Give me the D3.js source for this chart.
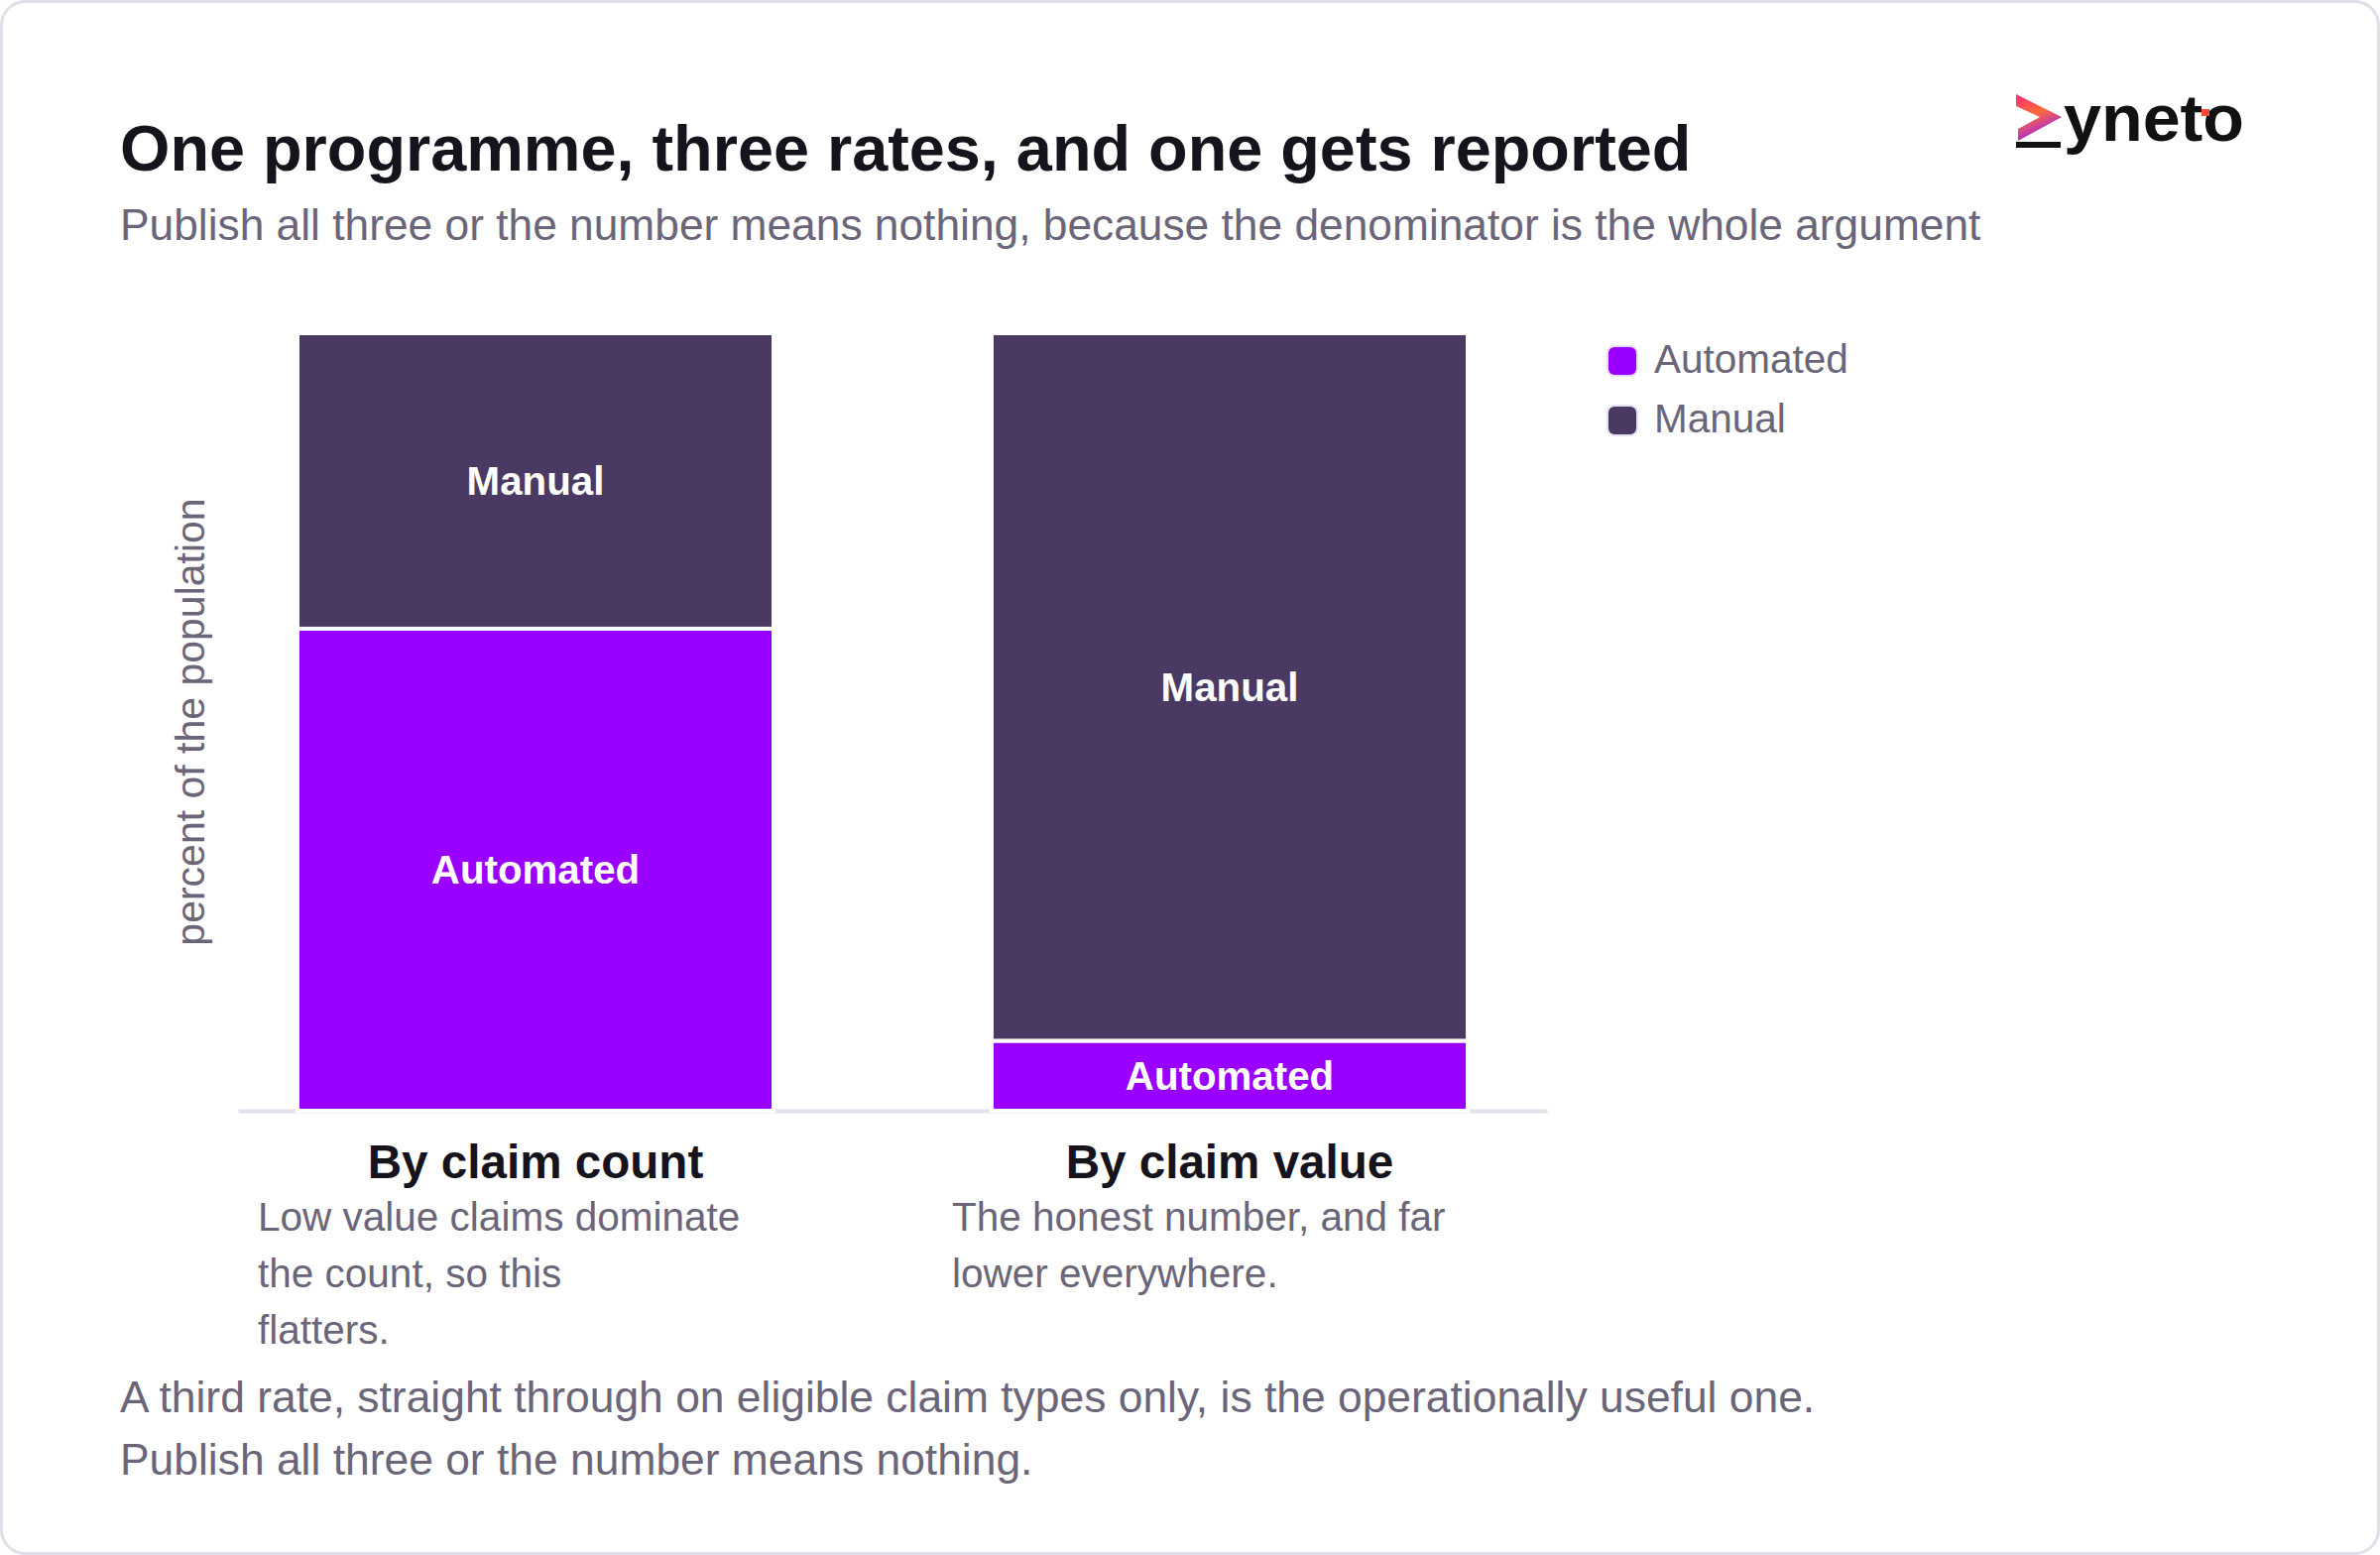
<!DOCTYPE html>
<html>
<head>
<meta charset="utf-8">
<script src="https://cdn.jsdelivr.net/npm/d3@7"></script>
<style>
  html, body { margin: 0; padding: 0; background: #ffffff; }
  svg { display: block; }
  text { font-family: "Liberation Sans", Arial, Helvetica, sans-serif; }
</style>
</head>
<body>
<div id="chart"></div>
<script>
// chart values
const categories = ['By claim count', 'By claim value'];
const series = ['Automated', 'Manual'];
const automated = [62, 9];
const manual = [38, 91];
const notes = [
  ['Low value claims dominate', 'the count, so this', 'flatters.'],
  ['The honest number, and far', 'lower everywhere.']
];
const footnotes = [
  'A third rate, straight through on eligible claim types only, is the operationally useful one.',
  'Publish all three or the number means nothing.'
];
const yTicks = [0, 100];
const title = 'One programme, three rates, and one gets reported';
const subtitle = 'Publish all three or the number means nothing, because the denominator is the whole argument';
const yLabel = 'percent of the population';

let w = 2400;
let h = 1568;
let colors = { Automated: '#9900ff', Manual: '#4a3a63' };
let grey = '#6b6579';
let ink = '#15131c';

let rows = categories.map((c, i) => ({ cat: c, Automated: automated[i], Manual: manual[i] }));
let stacked = d3.stack().keys(series)(rows);

let svg = d3.select('#chart')
            .append('svg')
            .attr('width', w)
            .attr('height', h);

// card
svg.append('rect')
   .attr('x', 1.5).attr('y', 1.5)
   .attr('width', w - 3).attr('height', h - 3)
   .attr('rx', 24)
   .attr('fill', '#fff')
   .attr('stroke', '#e1dee9')
   .attr('stroke-width', 3);

svg.append('text')
   .attr('x', 121).attr('y', 172)
   .attr('font-size', 64.8).attr('font-weight', 700)
   .attr('fill', ink)
   .text(title);
svg.append('text')
   .attr('x', 121).attr('y', 242)
   .attr('font-size', 44.3)
   .attr('fill', grey)
   .text(subtitle);

// logo
let defs = svg.append('defs');
let grad = defs.append('linearGradient')
               .attr('id', 'zgrad')
               .attr('x1', 0).attr('y1', 0).attr('x2', 0.4).attr('y2', 1);
grad.append('stop').attr('offset', '0%').attr('stop-color', '#ff2d78');
grad.append('stop').attr('offset', '50%').attr('stop-color', '#ff6a3a');
grad.append('stop').attr('offset', '100%').attr('stop-color', '#9a1ff0');
let logo = svg.append('g').attr('transform', 'translate(2033, 95)');
logo.append('path')
    .attr('d', 'M0,0 L46,23 L2,47 L2,35 L24,23 L0,12 Z')
    .attr('fill', 'url(#zgrad)');
logo.append('rect')
    .attr('x', 0).attr('y', 48).attr('width', 45).attr('height', 6)
    .attr('fill', '#111');
logo.append('text')
    .attr('x', 48).attr('y', 47)
    .attr('font-family', '"DejaVu Sans", sans-serif')
    .attr('font-size', 66).attr('font-weight', 700)
    .attr('textLength', 182)
    .attr('lengthAdjust', 'spacingAndGlyphs')
    .attr('fill', '#111')
    .text('yneto');
logo.append('rect')
    .attr('x', 187).attr('y', 15).attr('width', 8).attr('height', 7)
    .attr('fill', '#ff4a3a');

// scales
let xScale = d3.scaleBand()
               .domain(categories)
               .range([240, 1560])
               .paddingInner(220 / 700)
               .paddingOuter(0.1)
               .align(60 / 140);
let yScale = d3.scaleLinear()
               .domain(d3.extent(yTicks))
               .range([1120, 336]);

let xAxis = d3.axisBottom(xScale).tickValues([]).tickSizeOuter(0);
let axisG = svg.append('g')
               .attr('transform', 'translate(0,' + yScale(0) + ')')
               .call(xAxis);
axisG.select('.domain')
     .attr('stroke', '#e4e1ee')
     .attr('stroke-width', 4);

svg.append('text')
   .attr('transform', 'translate(206,' + yScale(50) + ') rotate(-90)')
   .attr('text-anchor', 'middle')
   .attr('font-size', 41)
   .attr('fill', grey)
   .text(yLabel);

// bars
let layers = svg.selectAll('g.layer')
                .data(stacked)
                .enter()
                .append('g')
                .attr('class', 'layer')
                .attr('fill', (d) => colors[d.key]);
layers.selectAll('rect')
      .data((d) => d)
      .enter()
      .append('rect')
      .attr('x', (d) => xScale(d.data.cat))
      .attr('y', (d) => yScale(d[1]))
      .attr('width', xScale.bandwidth())
      .attr('height', (d) => yScale(d[0]) - yScale(d[1]))
      .attr('stroke', '#fff')
      .attr('stroke-width', 4);
layers.each(function(s) {
  d3.select(this).selectAll('text')
    .data(s)
    .enter()
    .append('text')
    .attr('x', (d) => xScale(d.data.cat) + xScale.bandwidth() / 2)
    .attr('y', (d) => (yScale(d[0]) + yScale(d[1])) / 2)
    .attr('dy', '0.35em')
    .attr('text-anchor', 'middle')
    .attr('font-size', 40.3).attr('font-weight', 700)
    .attr('fill', '#fff')
    .text(s.key);
});

// category labels and notes
categories.forEach((c, i) => {
  let cx = xScale(c) + xScale.bandwidth() / 2;
  svg.append('text')
     .attr('x', cx).attr('y', 1188)
     .attr('text-anchor', 'middle')
     .attr('font-size', 47.6).attr('font-weight', 700)
     .attr('fill', ink)
     .text(c);
  svg.append('g')
     .selectAll('text')
     .data(notes[i])
     .enter()
     .append('text')
     .attr('x', cx - 280)
     .attr('y', (d, j) => 1241 + j * 57)
     .attr('font-size', 40.5)
     .attr('fill', grey)
     .text((d) => d);
});

// legend
let legend = svg.append('g').attr('transform', 'translate(1621, 349)');
let items = legend.selectAll('g')
                  .data(series)
                  .enter()
                  .append('g')
                  .attr('transform', (d, i) => 'translate(0,' + (i * 60) + ')');
items.append('rect')
     .attr('width', 30).attr('height', 30)
     .attr('rx', 7)
     .attr('fill', (d) => colors[d])
     .attr('stroke', '#e6e1f1')
     .attr('stroke-width', 2);
items.append('text')
     .attr('x', 47).attr('y', 27)
     .attr('font-size', 40.5)
     .attr('fill', grey)
     .text((d) => d);

svg.append('g')
   .selectAll('text')
   .data(footnotes)
   .enter()
   .append('text')
   .attr('x', 121)
   .attr('y', (d, i) => 1424 + i * 63)
   .attr('font-size', 44.4)
   .attr('fill', grey)
   .text((d) => d);
</script>
</body>
</html>
